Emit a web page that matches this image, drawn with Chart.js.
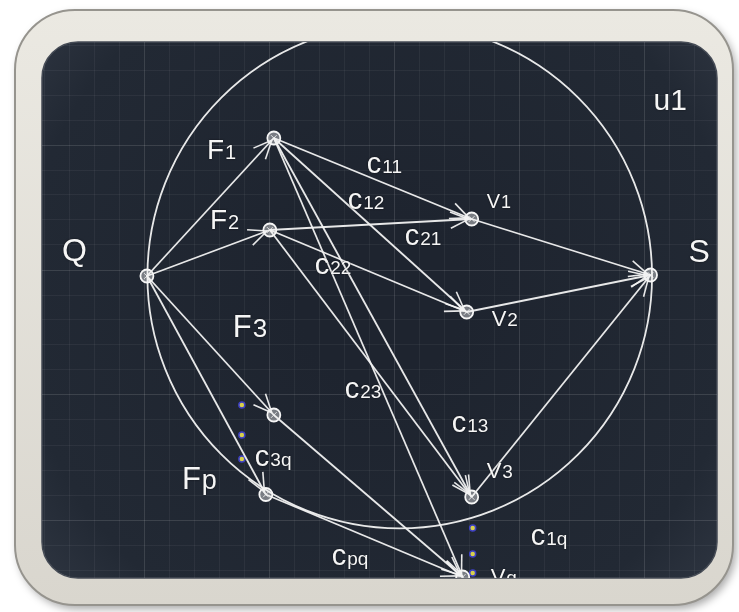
<!DOCTYPE html>
<html>
<head>
<meta charset="utf-8">
<style>
  html, body { margin: 0; padding: 0; background: #ffffff; }
  canvas { display: block; }
</style>
<script src="https://cdn.jsdelivr.net/npm/chart.js@4.4.1/dist/chart.umd.min.js"></script>
</head>
<body>
<canvas id="flowChart" width="739" height="612"></canvas>
<script>
// network nodes, in grid units (one unit = one minor grid cell, y grows downwards)
const nodeNames = ['Q', 'F1', 'F2', 'F3', 'Fp', 'V1', 'V2', 'V3', 'Vq', 'S'];
const nodeX = [5.08, 10.16, 10.0, 10.16, 9.84, 18.08, 17.88, 18.08, 17.72, 25.24];
const nodeY = [10.24, 4.72, 8.4, 15.8, 18.98, 7.96, 11.68, 19.08, 22.28, 10.2];

// arcs (from -> to)
const edgeFrom = ['Q', 'Q', 'Q', 'Q', 'F1', 'F1', 'F1', 'F1', 'F2', 'F2', 'F2', 'F3', 'Fp', 'V1', 'V2', 'V3'];
const edgeTo = ['F1', 'F2', 'F3', 'Fp', 'V1', 'V2', 'V3', 'Vq', 'V1', 'V2', 'V3', 'Vq', 'Vq', 'S', 'S', 'S'];

// the little "..." dots between F3/Fp and V3/Vq
const dotX = [8.88, 8.88, 8.88, 18.12, 18.12, 18.12];
const dotY = [15.4, 16.6, 17.56, 20.32, 21.36, 22.12];

// cut u1 (the big circle)
const ringCenter = [15.2, 10.24];
const ringRadius = 10.1;

// text labels (main part + subscript)
const labelMain = ['Q', 'S', 'u1', 'F', 'F', 'F', 'F', 'c', 'c', 'c', 'c', 'V', 'V', 'c', 'c', 'V', 'c', 'c', 'c', 'V'];
const labelSub = ['', '', '', '1', '2', '3', 'p', '11', '12', '21', '22', '1', '2', '23', '13', '3', '3q', '1q', 'pq', 'q'];

// layout of the labels: [x, y(baseline), size, subscript size]
const labelLayout = [
  [1.68, 9.64, 32, 0], [26.76, 9.68, 32, 0], [25.36, 3.6, 30, 0],
  [7.48, 5.56, 28, 20], [7.6, 8.36, 28, 20], [8.52, 12.68, 31, 26], [6.48, 18.76, 31, 27],
  [13.88, 6.12, 29, 19], [13.12, 7.56, 29, 19], [15.4, 9.0, 29, 19], [11.8, 10.16, 29, 19],
  [18.68, 7.52, 20, 18], [18.88, 12.24, 22, 19], [13.0, 15.12, 29, 19], [17.28, 16.48, 29, 19],
  [18.68, 18.32, 22, 19], [9.4, 17.84, 29, 19], [20.44, 21.0, 29, 19], [12.48, 21.8, 29, 19],
  [18.84, 22.56, 22, 19]
];

const LINE = 'rgba(242, 242, 242, 0.95)';
const FONT = '"Liberation Sans", Arial, sans-serif';

function roundRect(ctx, x, y, w, h, r) {
  ctx.beginPath();
  ctx.moveTo(x + r, y);
  ctx.arcTo(x + w, y, x + w, y + h, r);
  ctx.arcTo(x + w, y + h, x, y + h, r);
  ctx.arcTo(x, y + h, x, y, r);
  ctx.arcTo(x, y, x + w, y, r);
  ctx.closePath();
}

const idx = name => nodeNames.indexOf(name);

// board frame + dark panel, everything after is clipped to the panel
const boardPlugin = {
  id: 'board',
  beforeDraw(chart) {
    const { ctx, chartArea: a } = chart;
    ctx.save();
    ctx.shadowColor = 'rgba(0, 0, 0, 0.35)';
    ctx.shadowBlur = 8;
    ctx.shadowOffsetX = 3;
    ctx.shadowOffsetY = 4;
    const fg = ctx.createLinearGradient(0, a.top - 32, 0, a.bottom + 27);
    fg.addColorStop(0, '#ebe9e2');
    fg.addColorStop(1, '#d9d6ce');
    ctx.fillStyle = fg;
    roundRect(ctx, a.left - 27, a.top - 32, a.right - a.left + 43, a.bottom - a.top + 59, 60);
    ctx.fill();
    ctx.restore();
    ctx.save();
    ctx.strokeStyle = '#96948e';
    ctx.lineWidth = 2;
    roundRect(ctx, a.left - 27, a.top - 32, a.right - a.left + 43, a.bottom - a.top + 59, 60);
    ctx.stroke();
    ctx.restore();

    ctx.save();
    const pg = ctx.createRadialGradient(380, 300, 80, 380, 300, 480);
    pg.addColorStop(0, '#1e242f');
    pg.addColorStop(0.7, '#222934');
    pg.addColorStop(1, '#343b47');
    ctx.fillStyle = pg;
    roundRect(ctx, a.left, a.top, a.right - a.left, a.bottom - a.top, 36);
    ctx.fill();
    ctx.strokeStyle = '#454b55';
    ctx.lineWidth = 1.5;
    ctx.stroke();
    ctx.restore();

    ctx.save();
    roundRect(ctx, a.left, a.top, a.right - a.left, a.bottom - a.top, 36);
    ctx.clip();
  },
  beforeDatasetsDraw(chart) {
    const { ctx, scales: { x, y } } = chart;
    const cx = x.getPixelForValue(ringCenter[0]);
    const cy = y.getPixelForValue(ringCenter[1]);
    const r = x.getPixelForValue(ringCenter[0] + ringRadius) - cx;
    ctx.save();
    ctx.strokeStyle = LINE;
    ctx.lineWidth = 1.8;
    ctx.beginPath();
    ctx.arc(cx, cy, r, 0, Math.PI * 2);
    ctx.stroke();
    ctx.restore();
  },
  afterDatasetsDraw(chart) {
    const { ctx, scales: { x, y } } = chart;
    ctx.save();
    // arrow heads
    ctx.strokeStyle = LINE;
    ctx.lineWidth = 1.6;
    edgeFrom.forEach((f, i) => {
      const a = idx(f), b = idx(edgeTo[i]);
      const x1 = x.getPixelForValue(nodeX[a]), y1 = y.getPixelForValue(nodeY[a]);
      const x2 = x.getPixelForValue(nodeX[b]), y2 = y.getPixelForValue(nodeY[b]);
      const ang = Math.atan2(y2 - y1, x2 - x1);
      const tx = x2 - Math.cos(ang) * 3, ty = y2 - Math.sin(ang) * 3;
      [-1, 1].forEach(s => {
        ctx.beginPath();
        ctx.moveTo(tx, ty);
        ctx.lineTo(tx - Math.cos(ang + s * 0.42) * 20, ty - Math.sin(ang + s * 0.42) * 20);
        ctx.stroke();
      });
    });

    // labels
    ctx.fillStyle = '#f6f6f6';
    ctx.textBaseline = 'alphabetic';
    ctx.shadowColor = 'rgba(0, 0, 0, 0.6)';
    ctx.shadowBlur = 2;
    labelMain.forEach((m, i) => {
      const [lx, ly, size, subSize] = labelLayout[i];
      const px = x.getPixelForValue(lx), py = y.getPixelForValue(ly);
      ctx.font = size + 'px ' + FONT;
      ctx.fillText(m, px, py);
      if (labelSub[i]) {
        const w = ctx.measureText(m).width;
        ctx.font = subSize + 'px ' + FONT;
        ctx.fillText(labelSub[i], px + w + 1, py);
      }
    });
    ctx.restore();
  },
  afterDraw(chart) {
    chart.ctx.restore();
  }
};

const edgeSets = edgeFrom.map((f, i) => ({
  data: [
    { x: nodeX[idx(f)], y: nodeY[idx(f)] },
    { x: nodeX[idx(edgeTo[i])], y: nodeY[idx(edgeTo[i])] }
  ],
  showLine: true,
  borderColor: LINE,
  borderWidth: 1.8,
  pointRadius: 0
}));

const nodePoints = nodeNames.map((n, i) => ({ x: nodeX[i], y: nodeY[i] }));

const gridColor = c => (c.tick && c.tick.value % 5 === 0)
  ? 'rgba(255, 255, 255, 0.12)'
  : 'rgba(255, 255, 255, 0.05)';

new Chart(document.getElementById('flowChart'), {
  type: 'scatter',
  data: {
    datasets: [
      ...edgeSets,
      {
        data: nodePoints,
        pointStyle: 'circle',
        pointRadius: 6.5,
        backgroundColor: 'rgba(255, 255, 255, 0.4)',
        borderColor: '#f6f6f6',
        borderWidth: 1.8
      },
      {
        data: nodePoints,
        pointStyle: 'crossRot',
        pointRadius: 4,
        borderColor: 'rgba(255, 255, 255, 0.8)',
        borderWidth: 1
      },
      {
        data: dotX.map((v, i) => ({ x: v, y: dotY[i] })),
        pointStyle: 'circle',
        pointRadius: 3,
        backgroundColor: '#d8d04c',
        borderColor: '#3d40c4',
        borderWidth: 1.5
      }
    ]
  },
  options: {
    responsive: false,
    animation: false,
    events: [],
    layout: { padding: { left: 42, top: 42, right: 22, bottom: 34 } },
    plugins: { legend: { display: false }, tooltip: { enabled: false } },
    scales: {
      x: {
        type: 'linear',
        min: 0.88,
        max: 27.9,
        ticks: { display: false, stepSize: 1, includeBounds: false },
        grid: { color: gridColor, drawTicks: false },
        border: { display: false },
        afterFit: s => { s.height = 0; }
      },
      y: {
        type: 'linear',
        reverse: true,
        min: 0.88,
        max: 22.32,
        ticks: { display: false, stepSize: 1, includeBounds: false },
        grid: { color: gridColor, drawTicks: false },
        border: { display: false },
        afterFit: s => { s.width = 0; }
      }
    }
  },
  plugins: [boardPlugin]
});
</script>
</body>
</html>
